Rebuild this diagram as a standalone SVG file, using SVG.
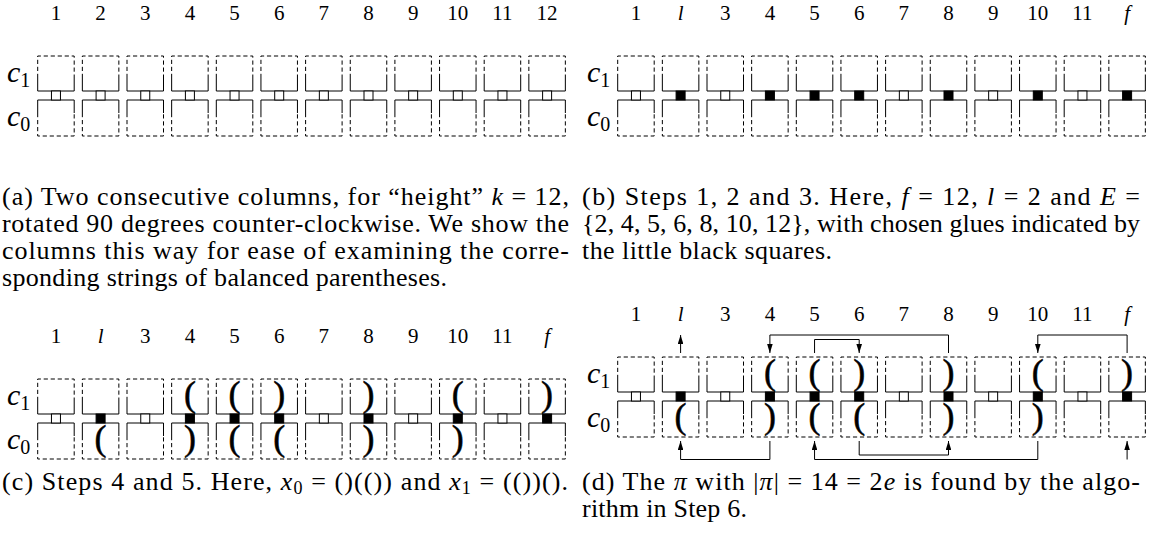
<svg xmlns="http://www.w3.org/2000/svg" xmlns:xlink="http://www.w3.org/1999/xlink" width="1153" height="537" viewBox="0 0 1153 537">
<style>
.dash{fill:none;stroke:#000;stroke-width:1;stroke-dasharray:4.2 2.8}
.solid{fill:none;stroke:#000;stroke-width:1}
.g0{fill:#fff;stroke:#000;stroke-width:1}
.g1{fill:#000;stroke:#000;stroke-width:1}
.lab{font-family:"Liberation Serif",serif;font-size:21px;text-anchor:middle;fill:#000}
.it{font-style:italic}
.cl{font-family:"Liberation Serif",serif;font-size:30px;font-style:italic;fill:#000}
.sub{font-size:20px;font-style:normal}
.par{font-family:"Liberation Serif",serif;font-size:36px;text-anchor:middle;fill:#000;stroke:#000;stroke-width:0.5}
.cap{font-family:"Liberation Serif",serif;font-size:26px;fill:#000}
.conn{fill:none;stroke:#000;stroke-width:1}
</style>
<defs>
<g id="col">
<path class="dash" d="M0,22 V0 H36.5 V22"/>
<path class="solid" d="M0,22 V35 H36.5 V22"/>
<path class="solid" d="M0,57 V44 H36.5 V57"/>
<path class="dash" d="M0,57 V80 H36.5 V57"/>
</g>
<marker id="ah" viewBox="0 0 9 5.6" refX="9" refY="2.8" markerWidth="9" markerHeight="5.6" markerUnits="userSpaceOnUse" orient="auto"><path d="M0,0 L9,2.8 L0,5.6 z" fill="#000"/></marker>
</defs>

<!-- Panel (a) -->
<g id="panel-a" transform="translate(0,56)">
<text class="cl" x="7" y="26">c<tspan class="sub" dy="5">1</tspan></text>
<text class="cl" x="7" y="70">c<tspan class="sub" dy="5">0</tspan></text>
<g class="lab">
<text x="55.95" y="-36">1</text><text x="100.6" y="-36">2</text><text x="145.25" y="-36">3</text><text x="189.9" y="-36">4</text><text x="234.55" y="-36">5</text><text x="279.2" y="-36">6</text><text x="323.85" y="-36">7</text><text x="368.5" y="-36">8</text><text x="413.15" y="-36">9</text><text x="457.8" y="-36">10</text><text x="502.45" y="-36">11</text><text x="547.1" y="-36">12</text>
</g>
<g id="a1" transform="translate(37.7,0)"><use xlink:href="#col"/><rect class="g0" x="13.75" y="35" width="9" height="9"/></g>
<g id="a2" transform="translate(82.35,0)"><use xlink:href="#col"/><rect class="g0" x="13.75" y="35" width="9" height="9"/></g>
<g id="a3" transform="translate(127,0)"><use xlink:href="#col"/><rect class="g0" x="13.75" y="35" width="9" height="9"/></g>
<g id="a4" transform="translate(171.65,0)"><use xlink:href="#col"/><rect class="g0" x="13.75" y="35" width="9" height="9"/></g>
<g id="a5" transform="translate(216.3,0)"><use xlink:href="#col"/><rect class="g0" x="13.75" y="35" width="9" height="9"/></g>
<g id="a6" transform="translate(260.95,0)"><use xlink:href="#col"/><rect class="g0" x="13.75" y="35" width="9" height="9"/></g>
<g id="a7" transform="translate(305.6,0)"><use xlink:href="#col"/><rect class="g0" x="13.75" y="35" width="9" height="9"/></g>
<g id="a8" transform="translate(350.25,0)"><use xlink:href="#col"/><rect class="g0" x="13.75" y="35" width="9" height="9"/></g>
<g id="a9" transform="translate(394.9,0)"><use xlink:href="#col"/><rect class="g0" x="13.75" y="35" width="9" height="9"/></g>
<g id="a10" transform="translate(439.55,0)"><use xlink:href="#col"/><rect class="g0" x="13.75" y="35" width="9" height="9"/></g>
<g id="a11" transform="translate(484.2,0)"><use xlink:href="#col"/><rect class="g0" x="13.75" y="35" width="9" height="9"/></g>
<g id="a12" transform="translate(528.85,0)"><use xlink:href="#col"/><rect class="g0" x="13.75" y="35" width="9" height="9"/></g>
</g>

<!-- Panel (b) -->
<g id="panel-b" transform="translate(580,56)">
<text class="cl" x="7" y="26">c<tspan class="sub" dy="5">1</tspan></text>
<text class="cl" x="7" y="70">c<tspan class="sub" dy="5">0</tspan></text>
<g class="lab">
<text x="55.95" y="-36">1</text><text class="it" x="100.6" y="-36">l</text><text x="145.25" y="-36">3</text><text x="189.9" y="-36">4</text><text x="234.55" y="-36">5</text><text x="279.2" y="-36">6</text><text x="323.85" y="-36">7</text><text x="368.5" y="-36">8</text><text x="413.15" y="-36">9</text><text x="457.8" y="-36">10</text><text x="502.45" y="-36">11</text><text class="it" x="547.1" y="-36">f</text>
</g>
<g id="b1" transform="translate(37.7,0)"><use xlink:href="#col"/><rect class="g0" x="13.75" y="35" width="9" height="9"/></g>
<g id="b2" transform="translate(82.35,0)"><use xlink:href="#col"/><rect class="g1" x="13.75" y="35" width="9" height="9"/></g>
<g id="b3" transform="translate(127,0)"><use xlink:href="#col"/><rect class="g0" x="13.75" y="35" width="9" height="9"/></g>
<g id="b4" transform="translate(171.65,0)"><use xlink:href="#col"/><rect class="g1" x="13.75" y="35" width="9" height="9"/></g>
<g id="b5" transform="translate(216.3,0)"><use xlink:href="#col"/><rect class="g1" x="13.75" y="35" width="9" height="9"/></g>
<g id="b6" transform="translate(260.95,0)"><use xlink:href="#col"/><rect class="g1" x="13.75" y="35" width="9" height="9"/></g>
<g id="b7" transform="translate(305.6,0)"><use xlink:href="#col"/><rect class="g0" x="13.75" y="35" width="9" height="9"/></g>
<g id="b8" transform="translate(350.25,0)"><use xlink:href="#col"/><rect class="g1" x="13.75" y="35" width="9" height="9"/></g>
<g id="b9" transform="translate(394.9,0)"><use xlink:href="#col"/><rect class="g0" x="13.75" y="35" width="9" height="9"/></g>
<g id="b10" transform="translate(439.55,0)"><use xlink:href="#col"/><rect class="g1" x="13.75" y="35" width="9" height="9"/></g>
<g id="b11" transform="translate(484.2,0)"><use xlink:href="#col"/><rect class="g0" x="13.75" y="35" width="9" height="9"/></g>
<g id="b12" transform="translate(528.85,0)"><use xlink:href="#col"/><rect class="g1" x="13.75" y="35" width="9" height="9"/></g>
</g>

<!-- Panel (c) -->
<g id="panel-c" transform="translate(0,379)">
<text class="cl" x="7" y="26">c<tspan class="sub" dy="5">1</tspan></text>
<text class="cl" x="7" y="70">c<tspan class="sub" dy="5">0</tspan></text>
<g class="lab">
<text x="55.95" y="-36">1</text><text class="it" x="100.6" y="-36">l</text><text x="145.25" y="-36">3</text><text x="189.9" y="-36">4</text><text x="234.55" y="-36">5</text><text x="279.2" y="-36">6</text><text x="323.85" y="-36">7</text><text x="368.5" y="-36">8</text><text x="413.15" y="-36">9</text><text x="457.8" y="-36">10</text><text x="502.45" y="-36">11</text><text class="it" x="547.1" y="-36">f</text>
</g>
<g id="c1" transform="translate(37.7,0)"><use xlink:href="#col"/><rect class="g0" x="13.75" y="35" width="9" height="9"/></g>
<g id="c2" transform="translate(82.35,0)"><use xlink:href="#col"/><rect class="g1" x="13.75" y="35" width="9" height="9"/><text class="par" x="18.25" y="71">(</text></g>
<g id="c3" transform="translate(127,0)"><use xlink:href="#col"/><rect class="g0" x="13.75" y="35" width="9" height="9"/></g>
<g id="c4" transform="translate(171.65,0)"><use xlink:href="#col"/><rect class="g1" x="13.75" y="35" width="9" height="9"/><text class="par" x="18.25" y="26.5">(</text><text class="par" x="18.25" y="71">)</text></g>
<g id="c5" transform="translate(216.3,0)"><use xlink:href="#col"/><rect class="g1" x="13.75" y="35" width="9" height="9"/><text class="par" x="18.25" y="26.5">(</text><text class="par" x="18.25" y="71">(</text></g>
<g id="c6" transform="translate(260.95,0)"><use xlink:href="#col"/><rect class="g1" x="13.75" y="35" width="9" height="9"/><text class="par" x="18.25" y="26.5">)</text><text class="par" x="18.25" y="71">(</text></g>
<g id="c7" transform="translate(305.6,0)"><use xlink:href="#col"/><rect class="g0" x="13.75" y="35" width="9" height="9"/></g>
<g id="c8" transform="translate(350.25,0)"><use xlink:href="#col"/><rect class="g1" x="13.75" y="35" width="9" height="9"/><text class="par" x="18.25" y="26.5">)</text><text class="par" x="18.25" y="71">)</text></g>
<g id="c9" transform="translate(394.9,0)"><use xlink:href="#col"/><rect class="g0" x="13.75" y="35" width="9" height="9"/></g>
<g id="c10" transform="translate(439.55,0)"><use xlink:href="#col"/><rect class="g1" x="13.75" y="35" width="9" height="9"/><text class="par" x="18.25" y="26.5">(</text><text class="par" x="18.25" y="71">)</text></g>
<g id="c11" transform="translate(484.2,0)"><use xlink:href="#col"/><rect class="g0" x="13.75" y="35" width="9" height="9"/></g>
<g id="c12" transform="translate(528.85,0)"><use xlink:href="#col"/><rect class="g1" x="13.75" y="35" width="9" height="9"/><text class="par" x="18.25" y="26.5">)</text></g>
</g>

<!-- Panel (d) -->
<g id="panel-d" transform="translate(580,357)">
<text class="cl" x="7" y="26">c<tspan class="sub" dy="5">1</tspan></text>
<text class="cl" x="7" y="70">c<tspan class="sub" dy="5">0</tspan></text>
<g class="lab">
<text x="55.95" y="-36">1</text><text class="it" x="100.6" y="-36">l</text><text x="145.25" y="-36">3</text><text x="189.9" y="-36">4</text><text x="234.55" y="-36">5</text><text x="279.2" y="-36">6</text><text x="323.85" y="-36">7</text><text x="368.5" y="-36">8</text><text x="413.15" y="-36">9</text><text x="457.8" y="-36">10</text><text x="502.45" y="-36">11</text><text class="it" x="547.1" y="-36">f</text>
</g>
<g id="d1" transform="translate(37.7,0)"><use xlink:href="#col"/><rect class="g0" x="13.75" y="35" width="9" height="9"/></g>
<g id="d2" transform="translate(82.35,0)"><use xlink:href="#col"/><rect class="g1" x="13.75" y="35" width="9" height="9"/><text class="par" x="18.25" y="71">(</text></g>
<g id="d3" transform="translate(127,0)"><use xlink:href="#col"/><rect class="g0" x="13.75" y="35" width="9" height="9"/></g>
<g id="d4" transform="translate(171.65,0)"><use xlink:href="#col"/><rect class="g1" x="13.75" y="35" width="9" height="9"/><text class="par" x="18.25" y="26.5">(</text><text class="par" x="18.25" y="71">)</text></g>
<g id="d5" transform="translate(216.3,0)"><use xlink:href="#col"/><rect class="g1" x="13.75" y="35" width="9" height="9"/><text class="par" x="18.25" y="26.5">(</text><text class="par" x="18.25" y="71">(</text></g>
<g id="d6" transform="translate(260.95,0)"><use xlink:href="#col"/><rect class="g1" x="13.75" y="35" width="9" height="9"/><text class="par" x="18.25" y="26.5">)</text><text class="par" x="18.25" y="71">(</text></g>
<g id="d7" transform="translate(305.6,0)"><use xlink:href="#col"/><rect class="g0" x="13.75" y="35" width="9" height="9"/></g>
<g id="d8" transform="translate(350.25,0)"><use xlink:href="#col"/><rect class="g1" x="13.75" y="35" width="9" height="9"/><text class="par" x="18.25" y="26.5">)</text><text class="par" x="18.25" y="71">)</text></g>
<g id="d9" transform="translate(394.9,0)"><use xlink:href="#col"/><rect class="g0" x="13.75" y="35" width="9" height="9"/></g>
<g id="d10" transform="translate(439.55,0)"><use xlink:href="#col"/><rect class="g1" x="13.75" y="35" width="9" height="9"/><text class="par" x="18.25" y="26.5">(</text><text class="par" x="18.25" y="71">)</text></g>
<g id="d11" transform="translate(484.2,0)"><use xlink:href="#col"/><rect class="g0" x="13.75" y="35" width="9" height="9"/></g>
<g id="d12" transform="translate(528.85,0)"><use xlink:href="#col"/><rect class="g1" x="13.75" y="35" width="9" height="9"/><text class="par" x="18.25" y="26.5">)</text></g>
</g>

<!-- Connectors of panel (d) -->
<g id="connectors" class="conn" marker-end="url(#ah)">
<path d="M680.6,353 V335"/>
<path d="M948.5,353 V335 H769.9 V353"/>
<path d="M814.55,353 V339.5 H859.2 V353"/>
<path d="M1127.1,353 V335 H1037.8 V353"/>
<path d="M769.9,441 V459.5 H680.6 V441"/>
<path d="M1037.8,441 V459.5 H814.55 V441"/>
<path d="M859.2,441 V455 H948.5 V441"/>
<path d="M1127.1,459.5 V441"/>
</g>

<!-- Captions -->
<g id="captions" class="cap">
<text x="2" y="205" textLength="567" lengthAdjust="spacing">(a) Two consecutive columns, for “height” <tspan class="it">k</tspan> = 12,</text>
<text x="2" y="232" textLength="567" lengthAdjust="spacing">rotated 90 degrees counter-clockwise. We show the</text>
<text x="2" y="259" textLength="567" lengthAdjust="spacing">columns this way for ease of examining the corre-</text>
<text x="2" y="286" textLength="445" lengthAdjust="spacing">sponding strings of balanced parentheses.</text>
<text x="582" y="205" textLength="558" lengthAdjust="spacing">(b) Steps 1, 2 and 3. Here, <tspan class="it">f</tspan> = 12, <tspan class="it">l</tspan> = 2 and <tspan class="it">E</tspan> =</text>
<text x="582" y="232" textLength="558" lengthAdjust="spacing">{2, 4, 5, 6, 8, 10, 12}, with chosen glues indicated by</text>
<text x="582" y="259" textLength="250" lengthAdjust="spacing">the little black squares.</text>
<text x="2" y="490" textLength="566" lengthAdjust="spacing">(c) Steps 4 and 5. Here, <tspan class="it">x</tspan><tspan font-size="18" dy="4">0</tspan><tspan dy="-4"> = ()(()) and </tspan><tspan class="it">x</tspan><tspan font-size="18" dy="4">1</tspan><tspan dy="-4"> = (())().</tspan></text>
<text x="582" y="490" textLength="558" lengthAdjust="spacing">(d) The <tspan class="it">π</tspan> with |<tspan class="it">π</tspan>| = 14 = 2<tspan class="it">e</tspan> is found by the algo-</text>
<text x="582" y="517" textLength="165" lengthAdjust="spacing">rithm in Step 6.</text>
</g>
</svg>
